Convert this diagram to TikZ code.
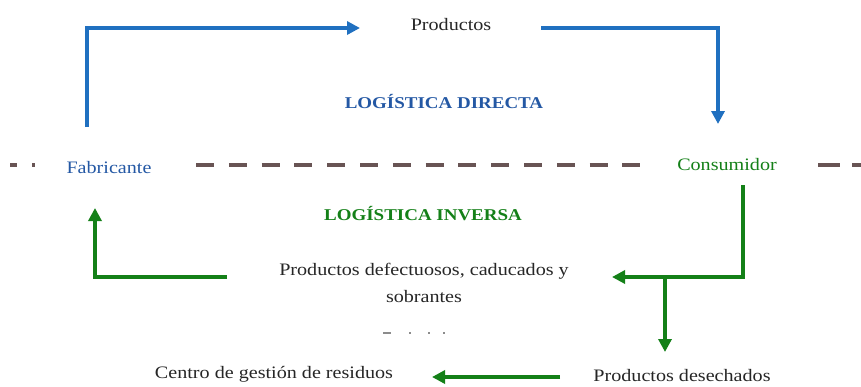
\documentclass[tikz,border=0pt]{standalone}
\usepackage{fontspec}
\setmainfont[FakeStretch=1.15]{Liberation Serif}
\usepackage{tikz}
\usetikzlibrary{arrows.meta,positioning}
\definecolor{flowblue}{RGB}{32,112,192}
\definecolor{titleblue}{RGB}{36,88,164}
\definecolor{flowgreen}{RGB}{20,128,24}
\definecolor{sepgrey}{RGB}{104,84,84}
\newcommand{\txtsize}{\fontsize{17.5}{27}\selectfont}

\begin{document}
\begin{tikzpicture}[x=1pt, y=-1pt,
    lbl/.style={inner sep=0pt, text=black!85, font=\txtsize},
    dtitle/.style={inner sep=0pt, text=titleblue, font=\fontsize{16.5}{20}\selectfont\bfseries},
    ititle/.style={inner sep=0pt, text=flowgreen, font=\fontsize{16.5}{20}\selectfont\bfseries},
    btxt/.style={inner sep=0pt, text=titleblue, font=\txtsize},
    gtxt/.style={inner sep=0pt, text=flowgreen, font=\txtsize},
    bluearrow/.style={draw=flowblue, line width=3.6pt, -{Triangle[length=13pt,width=13pt]}},
    greenarrow/.style={draw=flowgreen, line width=3.6pt, -{Triangle[length=13pt,width=13pt]}},
    sepline/.style={draw=sepgrey, line width=3.4pt}]
  \useasboundingbox (0,0) rectangle (861,386);

  % texts
  \node[lbl] (prod) at (451,25) {Productos};
  \node[dtitle] (ld) at (444,101) {LOGÍSTICA DIRECTA};
  \node[btxt] (fab) at (109,168) {Fabricante};
  \node[gtxt] (cons) at (727,165) {Consumidor};
  \node[ititle] (li) at (423,214) {LOGÍSTICA INVERSA};
  \node[lbl, align=center] (defect) at (424,283) {Productos defectuosos, caducados y\\sobrantes};
  \node[lbl] (centro) at (274,374) {Centro de gestión de residuos};
  \node[lbl] (desech) at (682,376) {Productos desechados};

  % end points of the arrows
  \coordinate (b1) at (87,127);
  \coordinate (b2) at (360,28);
  \coordinate (b3) at (541,28);
  \coordinate (b4) at (718,124);
  \coordinate (g1) at (743,185);
  \coordinate (g2) at (612,277);
  \coordinate (g3) at (665,277);
  \coordinate (g4) at (665,352);
  \coordinate (g5) at (227,277);
  \coordinate (g6) at (95,208);
  \coordinate (g7) at (560,377);
  \coordinate (g8) at (432,377);

  % logistica directa
  \draw[bluearrow] (b1) |- (b2);
  \draw[bluearrow] (b3) -| (b4);

  % logistica inversa
  \draw[greenarrow] (g1) |- (g2);
  \draw[greenarrow] (g3) -- (g4);
  \draw[greenarrow] (g5) -| (g6);
  \draw[greenarrow] (g7) -- (g8);

  % separating line
  \draw[sepline] (10,165) -- (17,165) (32,165) -- (35,165);
  \draw[sepline, dash pattern=on 18pt off 14.8pt] (196,165) -- (642,165);
  \draw[sepline] (818,165) -- (840,165) (852,165) -- (861,165);
  \draw[black!45, line width=1.2pt] (383,333) -- (391,333)
    (409,333) -- (411,333) (428,333) -- (430,333) (443,333) -- (445,333);
\end{tikzpicture}
\end{document}
